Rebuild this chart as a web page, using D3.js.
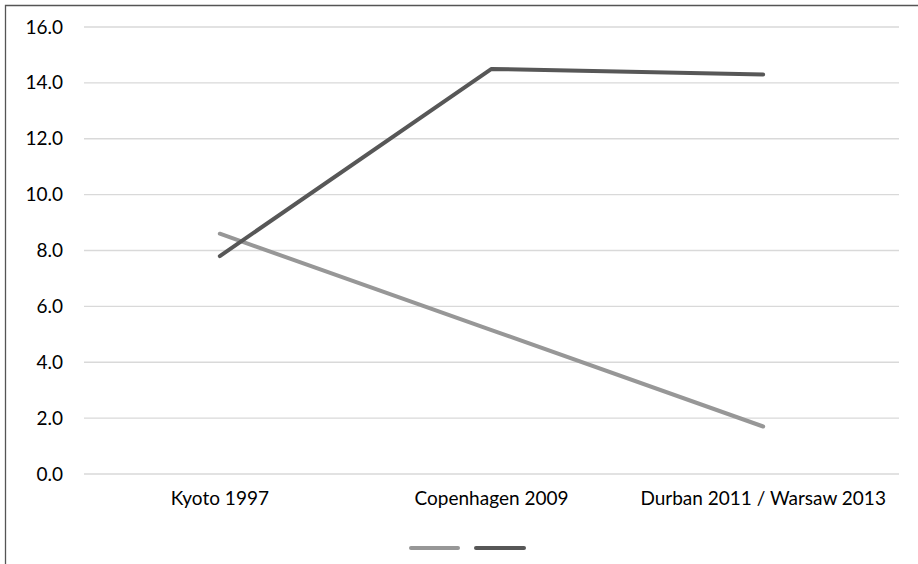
<!DOCTYPE html>
<html>
<head>
<meta charset="utf-8">
<script src="https://cdn.jsdelivr.net/npm/d3@7"></script>
<style>
  html, body { margin: 0; padding: 0; background: #fff; }
  svg { display: block; }
  text { font-family: Lato, "Open Sans", sans-serif; fill: #000; }
</style>
</head>
<body>
<svg id="chart" width="918" height="564"></svg>
<script>
const categories = ["Kyoto 1997", "Copenhagen 2009", "Durban 2011 / Warsaw 2013"];
const seriesLight = [8.6, 5.15, 1.7];
const seriesDark = [7.8, 14.5, 14.3];
const yTicks = [0, 2, 4, 6, 8, 10, 12, 14, 16];

const svg = d3.select("#chart");
const W = 918, H = 564;

// outer border
svg.append("path")
  .attr("d", `M5.5,${H} V5.5 H${W}`)
  .attr("fill", "none")
  .attr("stroke", "#555")
  .attr("stroke-width", 1.3);

const x = d3.scaleBand().domain(categories).range([84, 899]);
const y = d3.scaleLinear().domain([0, 16]).range([474, 27]);

// gridlines
svg.append("g").selectAll("line").data(yTicks).join("line")
  .attr("x1", 84).attr("x2", 899)
  .attr("y1", d => y(d)).attr("y2", d => y(d))
  .attr("stroke", "#d9d9d9").attr("stroke-width", 1.3);

// y axis labels
const yAxis = d3.axisLeft(y).tickValues(yTicks).tickFormat(d3.format(".1f")).tickSize(0).tickPadding(0);
const gy = svg.append("g").attr("transform", "translate(63,0)").call(yAxis);
gy.select(".domain").remove();
gy.selectAll("text").style("font-size", "19px").style("font-family", "Lato, sans-serif").attr("fill", "#000");

// x axis labels
const xAxis = d3.axisBottom(x).tickSize(0).tickPadding(0);
const gx = svg.append("g").attr("transform", "translate(0,0)").call(xAxis);
gx.select(".domain").remove();
gx.selectAll("text").attr("y", 505).attr("dy", 0)
  .style("font-size", "19px").style("font-family", "Lato, sans-serif").attr("fill", "#000");

const line = d3.line()
  .x((d, i) => x(categories[i]) + x.bandwidth() / 2)
  .y(d => y(d));

svg.append("path").datum(seriesLight)
  .attr("d", line).attr("fill", "none")
  .attr("stroke", "#979797").attr("stroke-width", 4).attr("stroke-linecap", "round").attr("stroke-linejoin", "round");
svg.append("path").datum(seriesDark)
  .attr("d", line).attr("fill", "none")
  .attr("stroke", "#575757").attr("stroke-width", 4).attr("stroke-linecap", "round").attr("stroke-linejoin", "round");

// legend
const legend = [ {c: "#979797", x0: 411, x1: 458}, {c: "#575757", x0: 476, x1: 524} ];
svg.append("g").selectAll("line").data(legend).join("line")
  .attr("x1", d => d.x0).attr("x2", d => d.x1)
  .attr("y1", 548).attr("y2", 548)
  .attr("stroke", d => d.c).attr("stroke-width", 4).attr("stroke-linecap", "round");
</script>
</body>
</html>
